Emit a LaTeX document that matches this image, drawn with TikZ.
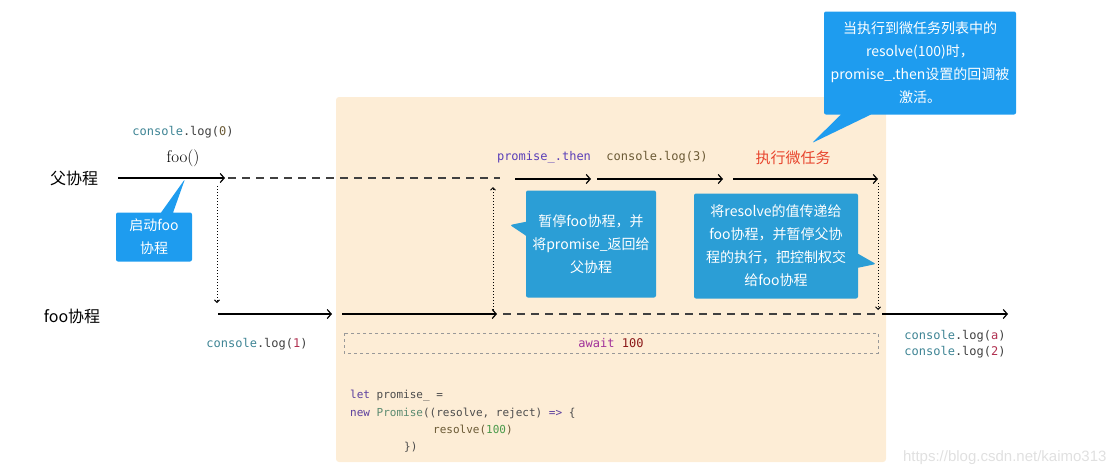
\documentclass[tikz,border=0pt]{standalone}
\usepackage{fontspec}
\setmonofont{DejaVu Sans Mono}
\setsansfont{Liberation Sans}
\newfontfamily\cjk{Noto Sans CJK SC}
\usetikzlibrary{shapes.callouts, positioning, arrows.meta}
\definecolor{peach}{HTML}{FDEDD6}
\definecolor{skyblue}{HTML}{1E9CEF}
\definecolor{seablue}{HTML}{2B9ED6}
\definecolor{tealish}{HTML}{3E8494}
\definecolor{kwpurple}{HTML}{5B3F9E}
\definecolor{thenblue}{HTML}{5A3FB8}
\definecolor{olive}{HTML}{6B5A35}
\definecolor{hotred}{HTML}{E8452E}
\definecolor{numred}{HTML}{B03050}
\definecolor{numgreen}{HTML}{4A9A4A}
\definecolor{sage}{HTML}{5A8A70}
\definecolor{awaitpink}{HTML}{A0309A}
\definecolor{darkred}{HTML}{8B1A1A}
\newcommand{\logcall}[2]{\textcolor{tealish}{console}.log(\textcolor{#2}{#1})}

\begin{document}
\begin{tikzpicture}[
        x=1pt, y=-1pt,
        >={Straight Barb[length=4pt, width=9pt]},
        flow/.style={
            ->,
            line width=1.2pt
        },
        idle/.style={
            dash pattern=on 8pt off 6pt,
            line width=1.2pt,
            black!75
        },
        hop/.style={
            -{Straight Barb[length=2.5pt, width=5pt]},
            dotted,
            line width=1pt
        },
        bubble/.style={
            rectangle callout,
            fill=seablue,
            text=white,
            rounded corners=2pt,
            inner sep=0pt,
            align=center,
            callout pointer width=14pt,
            font=\cjk\fontsize{14}{23}\selectfont
        },
        code/.style={
            font=\ttfamily\fontsize{12}{14}\selectfont,
            text=black!75
        },
        src/.style={
            anchor=west,
            inner sep=0pt,
            font=\ttfamily\fontsize{11}{13}\selectfont,
            text=black!70
        },
        lane/.style={
            font=\cjk\fontsize{16}{18}\selectfont
        }
    ]
        \useasboundingbox (0,0) rectangle (1118,475);

        % await region
        \fill[peach, rounded corners=3pt] (336,97) rectangle (886,462);

        % lanes
        \node[lane] (parent) at (74,178) {父协程};
        \node[lane] (child) at (72,316) {foo协程};

        % points on the lanes
        \coordinate (p0) at (118,178);
        \coordinate (p1) at (225,178);
        \coordinate (p2) at (228,178);
        \coordinate (p3) at (500,178);
        \coordinate (t0) at (515,179);
        \coordinate (t1) at (591,179);
        \coordinate (t2) at (597,179);
        \coordinate (t3) at (723,179);
        \coordinate (t4) at (733,179);
        \coordinate (t5) at (878,179);
        \coordinate (c0) at (218,314);
        \coordinate (c1) at (332,314);
        \coordinate (c2) at (342,314);
        \coordinate (c3) at (497,314);
        \coordinate (c4) at (503,314);
        \coordinate (c5) at (878,314);
        \coordinate (c6) at (882,314);
        \coordinate (c7) at (1008,314);

        \draw[flow] (p0) -- (p1);
        \draw[idle] (p2) -- (p3);
        \draw[flow] (t0) -- (t1);
        \draw[flow] (t2) -- (t3);
        \draw[flow] (t4) -- (t5);
        \draw[flow] (c0) -- (c1);
        \draw[flow] (c2) -- (c3);
        \draw[idle] (c4) -- (c5);
        \draw[flow] (c6) -- (c7);

        % switches between the lanes
        \coordinate (d0) at (217,186);
        \coordinate (d1) at (217,303);
        \coordinate (u0) at (493,310);
        \coordinate (u1) at (493,187);
        \coordinate (r0) at (878,183);
        \coordinate (r1) at (878,310);
        \draw[hop] (d0) -- (d1);
        \draw[hop] (u0) -- (u1);
        \draw[hop] (r0) -- (r1);

        % labels on the lanes
        \node[code] (log0) at (183,132) {\logcall{0}{olive}};
        \node[font=\fontsize{17}{19}\selectfont] (call) at (183,158) {foo()};
        \node[code] (log1) at (257,344) {\logcall{1}{numred}};
        \node[code, text=thenblue] (then) at (544,157) {promise\_.then};
        \node[code, text=olive] (log3) at (657,157) {console.log(3)};
        \node[font=\cjk\fontsize{15}{17}\selectfont, text=hotred] (micro) at (793,158) {执行微任务};
        \node[code] (loga) at (955,336) {\logcall{a}{numred}};
        \node[code] (log2) at (955,352) {\logcall{2}{numred}};

        % await 100
        \draw[dashed, black!40, line width=0.8pt] (344,333) rectangle (878,353);
        \node[code] (await) at (611,343) {\textcolor{awaitpink}{await} \textcolor{darkred}{100}};

        % promise source
        \node[src] (line1) at (350,396) {\textcolor{kwpurple}{let} promise\_ =};
        \node[src] (line2) at (350,413) {\textcolor{kwpurple}{new} \textcolor{sage}{Promise}((resolve, reject) \textcolor{kwpurple}{=>} \{};
        \node[src] (line3) at (433,430) {\textcolor{olive}{resolve(}\textcolor{numgreen}{100}\textcolor{olive}{)}};
        \node[src] (line4) at (404,447) {\})};

        % notes
        \coordinate (tip0) at (185,179);
        \coordinate (tip1) at (510,225);
        \coordinate (tip2) at (876,264);
        \coordinate (tip3) at (812,143);
        \node[bubble, fill=skyblue, minimum width=76pt, minimum height=49pt,
              callout pointer width=12pt, callout absolute pointer=(tip0)]
            (start) at (154,237) {启动foo\\协程};
        \node[bubble, minimum width=130pt, minimum height=107pt,
              callout absolute pointer=(tip1)]
            (pause) at (591,244) {暂停foo协程，并\\将promise\_返回给\\父协程};
        \node[bubble, minimum width=164pt, minimum height=105pt,
              callout absolute pointer=(tip2)]
            (pass) at (776,246) {将resolve的值传递给\\foo协程，并暂停父协\\程的执行，把控制权交\\给foo协程};
        \node[bubble, fill=skyblue, minimum width=192pt, minimum height=103pt,
              callout pointer width=30pt, callout absolute pointer=(tip3)]
            (wake) at (920,63) {当执行到微任务列表中的\\resolve(100)时，\\promise\_.then设置的回调被\\激活。};

        \node[font=\sffamily\fontsize{15}{17}\selectfont, text=black!12, anchor=east] (mark) at (1110,458) {https://blog.csdn.net/kaimo313};
    \end{tikzpicture}
\end{document}
